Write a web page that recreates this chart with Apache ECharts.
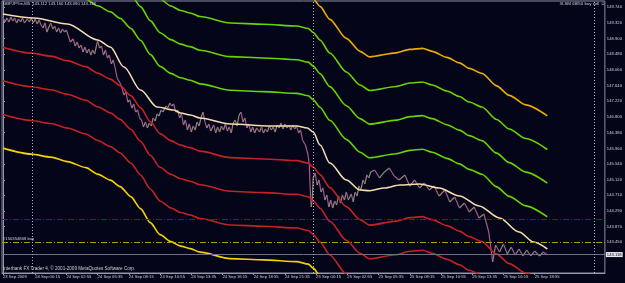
<!DOCTYPE html>
<html>
<head>
<meta charset="utf-8">
<script src="https://cdn.jsdelivr.net/npm/echarts/dist/echarts.min.js"></script>
<style>
html,body{margin:0;padding:0;background:#05051a;}
#chart{width:625px;height:283px;}
</style>
</head>
<body>
<div id="chart"></div>
<script>
// ---- DATA (bar index of M5 bars, price) ----
const timeTickBars = [0, 33, 65, 97, 129, 161, 193, 225, 257, 289, 321, 353, 385, 417, 449, 481, 513, 545];
const timeTickLabels = ['23 Sep 2009','24 Sep 00:15','24 Sep 02:55','24 Sep 05:35','24 Sep 08:15','24 Sep 10:55','24 Sep 13:35','24 Sep 16:15','24 Sep 18:55','24 Sep 21:35','25 Sep 00:15','25 Sep 02:55','25 Sep 05:35','25 Sep 08:15','25 Sep 10:55','25 Sep 13:35','25 Sep 16:15','25 Sep 18:55'];
const priceTickVals = [149.740,149.320,148.900,148.480,148.060,147.640,147.220,146.800,146.380,145.960,145.540,145.120,144.710,144.290,143.870,143.450,142.610];
const separatorBars = [30, 318, 606];

const priceBars = [0,2,4,6,8,10,12,14,16,18,20,22,25,27,29,31,33,35,37,39,
41,43,45,47,49,51,53,55,57,59,61,63,65,
67,69,72,74,76,78,80,82,84,86,88,90,92,94,96,97,
99,101,103,105,107,109,111,113,115,117,120,122,124,126,128,130,132,134,136,138,140,
142,144,146,148,150,152,154,156,158,160,162,164,167,169,171,173,175,177,179,181,183,185,187,189,191,
193,195,197,199,201,203,205,207,209,211,213,216,218,220,222,224,226,228,230,232,234,236,238,240,242,244,246,248,250,252,254,256,258,260,263,265,267,269,271,273,275,277,279,281,283,285,287,289,291,293,295,297,299,301,303,305,
307,310,312,313,314,315,316,317,318,320,322,324,326,328,330,332,334,336,338,340,342,344,346,348,350,352,354,357,359,361,363,365,367,369,371,373,375,377,
381,386,391,396,401,406,412,417,422,427,432,437,442,447,453,458,463,468,473,478,483,488,493,498,502,505,509,513,517,521,525,529,533,537,541,545,550,554,558];
const priceVals = [149.472,149.339,149.446,149.339,149.472,149.366,149.446,149.312,149.419,149.339,149.446,149.312,149.419,149.339,149.446,149.312,149.419,149.285,149.392,149.259,
149.178,149.312,149.071,149.205,149.312,149.152,149.232,149.071,149.178,149.045,149.152,149.071,149.125,
148.964,148.804,148.884,148.697,148.804,148.644,148.724,148.537,148.670,148.510,148.617,148.456,148.590,148.483,148.724,148.831,
148.644,148.697,148.456,148.590,148.376,148.456,148.216,148.323,148.109,147.841,147.708,147.574,147.387,147.467,147.199,147.253,147.039,147.146,146.932,146.986,146.772,
146.718,146.531,146.665,146.504,146.638,146.558,146.772,146.692,146.879,146.825,146.986,146.932,147.092,147.039,147.173,147.092,147.146,146.932,146.986,146.772,146.879,146.585,146.718,146.451,146.611,
146.398,146.558,146.451,146.665,146.558,146.772,146.932,146.665,146.504,146.611,146.424,146.585,146.371,146.531,146.398,146.558,146.451,146.611,146.424,146.531,146.371,146.638,146.718,146.558,146.852,146.932,146.665,146.772,146.504,146.611,146.398,146.531,146.371,146.504,146.398,146.531,146.371,146.478,146.398,146.558,146.451,146.531,146.398,146.585,146.504,146.638,146.478,146.611,146.504,146.585,146.451,146.585,146.478,146.558,146.371,146.451,
146.184,146.050,145.863,145.729,145.515,144.847,144.392,144.579,145.168,145.301,144.980,145.114,144.793,144.900,144.579,144.713,144.392,144.579,144.365,144.553,144.446,144.686,144.499,144.713,144.579,144.793,144.579,144.740,144.526,144.793,144.686,144.954,144.847,145.114,145.007,145.248,145.168,145.328,
145.381,145.168,145.328,145.435,145.221,145.114,145.248,144.953,145.114,144.900,145.034,144.847,144.953,144.687,144.847,144.526,144.660,144.365,144.499,144.258,144.392,144.098,144.204,143.724,142.921,143.376,143.189,143.403,143.135,143.323,143.109,143.269,143.082,143.242,143.082,143.215,143.082,143.189,143.109];

const maBars = [0,32,66,97,110,124,141,158,175,182,192,202,233,274,301,312,318,325,335,352,366,376,391,407,427,447,468,488,509,529,544,558];
const maVals = [149.553,149.446,149.285,148.858,148.670,148.136,147.520,147.066,146.986,146.906,146.852,146.772,146.611,146.558,146.558,146.504,146.398,146.050,145.569,145.114,144.847,144.828,144.900,144.980,145.007,144.900,144.687,144.419,144.098,143.724,143.456,143.269];

const bandCenterBars = [0,29,49,66,85,97,110,120,131,141,151,161,172,182,192,202,233,267,301,313,318,325,335,352,366,376,403,417,430,440,455,468,478,491,506,519,536,558];
const bandCenterVals = [149.566,149.406,149.326,149.205,149.045,148.871,148.711,148.537,148.269,147.949,147.574,147.253,147.066,146.946,146.879,146.785,146.612,146.577,146.531,146.465,146.358,146.157,145.810,145.301,144.954,144.807,144.914,145.007,145.034,144.954,144.793,144.646,144.499,144.366,144.031,143.777,143.523,143.229];
const bandStep = 0.90;
const bandLevels = [4, 3, 2, 1, -1, -2, -3, -4];
const bandColors = ['#eaae00','#66d400','#66d400','#66d400','#c42222','#c42222','#c42222','#f2d200'];

const stopLevel = 144.06;
const openLevel = 143.45;
const bidLevel = 143.118;

// ---- CHART ----
const FONT = "'Liberation Sans', Arial, sans-serif";
const TXT = '#cfcfd6';
const chart = echarts.init(document.getElementById('chart'), null, {renderer:'canvas'});

const bandSeries = bandLevels.map(function (k, j) {
  return {
    type: 'line', name: 'band' + k, symbol: 'none', smooth: 0.25, smoothMonotone: 'x',
    clip: true, silent: true, z: 3,
    lineStyle: {color: bandColors[j], width: 1.6},
    data: bandCenterBars.map(function (b, i) { return [b, +(bandCenterVals[i] + k * bandStep).toFixed(3)]; })
  };
});

const option = {
  animation: false,
  backgroundColor: '#05051a',
  grid: {left: 1, top: 1, width: 605, height: 272, show: true, borderColor: '#8c8ca4', borderWidth: 1, backgroundColor: '#05051a'},
  title: [
    {text: 'GBPJPYm,M5  143.112 143.160 143.090 143.118', left: 3, top: 2, padding: 0,
     textStyle: {color: TXT, fontSize: 4.2, fontWeight: 'normal', fontFamily: FONT}},
    {text: '3LSM 68/50 buy sell \u263A', right: 20, top: 2, padding: 0,
     textStyle: {color: TXT, fontSize: 4.4, fontWeight: 'normal', fontFamily: FONT}},
    {text: 'Interbank FX Trader 4, \u00A9 2001-2009 MetaQuotes Software Corp.', left: 3, top: 266, padding: 0,
     textStyle: {color: TXT, fontSize: 4.6, fontWeight: 'normal', fontFamily: FONT}},
    {text: '#150354808 buy', left: 3, top: 236.5, padding: 0,
     textStyle: {color: TXT, fontSize: 4.2, fontWeight: 'normal', fontFamily: FONT}}
  ],
  xAxis: {
    type: 'value', min: -1, max: 617, position: 'bottom',
    axisLine: {show: true, lineStyle: {color: '#9a9aae', width: 1}},
    splitLine: {show: false},
    axisTick: {show: true, customValues: timeTickBars, length: 2, lineStyle: {color: '#9a9aae'}},
    axisLabel: {
      customValues: timeTickBars, align: 'left', margin: 1.5, color: TXT, fontSize: 4.2, fontFamily: FONT,
      formatter: function (v) { const i = timeTickBars.indexOf(Math.round(v)); return i >= 0 ? timeTickLabels[i] : ''; }
    }
  },
  yAxis: {
    type: 'value', min: 142.627, max: 149.900, position: 'right', scale: true,
    axisLine: {show: true, lineStyle: {color: '#9a9aae', width: 1}},
    splitLine: {show: false},
    axisTick: {show: true, customValues: priceTickVals, length: 2, lineStyle: {color: '#9a9aae'}},
    axisLabel: {
      customValues: priceTickVals, margin: 2, color: TXT, fontSize: 4.2, fontFamily: FONT,
      formatter: function (v) { return v.toFixed(3); }
    }
  },
  series: [
    {
      type: 'custom', name: 'price', clip: true, silent: true, z: 2,
      data: priceBars.map(function (b, i) { return [b, priceVals[i]]; }),
      encode: {x: 0, y: 1},
      renderItem: function (params, api) {
        const i = params.dataIndex;
        if (i === 0) return null;
        const a = api.coord([priceBars[i - 1], priceVals[i - 1]]);
        const b = api.coord([priceBars[i], priceVals[i]]);
        return {type: 'line', shape: {x1: a[0], y1: a[1], x2: b[0], y2: b[1]},
                style: {stroke: priceVals[i] < priceVals[i - 1] ? '#a4588e' : '#8a8e70', lineWidth: 1.2}};
      }
    }
  ].concat(bandSeries).concat([
    {
      type: 'line', name: 'ma', symbol: 'none', smooth: 0.3, smoothMonotone: 'x', clip: true, silent: true, z: 4,
      lineStyle: {color: '#f3dcb0', width: 1.6},
      data: maBars.map(function (b, i) { return [b, maVals[i]]; }),
      markLine: {
        symbol: 'none', silent: true, animation: false,
        label: {show: false},
        data: [
          {yAxis: stopLevel, lineStyle: {color: '#7c1616', width: 1, type: [6, 2, 1, 2]}},
          {yAxis: openLevel, lineStyle: {color: '#b09c00', width: 1, type: [6, 2, 1, 2]}},
          {yAxis: bidLevel, lineStyle: {color: '#6e6e86', width: 1, type: 'solid'},
           label: {show: true, position: 'end', distance: 1, formatter: bidLevel.toFixed(3),
                   color: '#000000', backgroundColor: '#e8e8ee', padding: [1, 1, 0, 1], fontSize: 4.2, fontFamily: FONT}},
          {xAxis: separatorBars[0], lineStyle: {color: '#b4b4c4', width: 1, type: [1, 2]}},
          {xAxis: separatorBars[1], lineStyle: {color: '#b4b4c4', width: 1, type: [1, 2]}},
          {xAxis: separatorBars[2], lineStyle: {color: '#b4b4c4', width: 1, type: [1, 2]}}
        ]
      }
    }
  ])
};
chart.setOption(option);
</script>
</body>
</html>
